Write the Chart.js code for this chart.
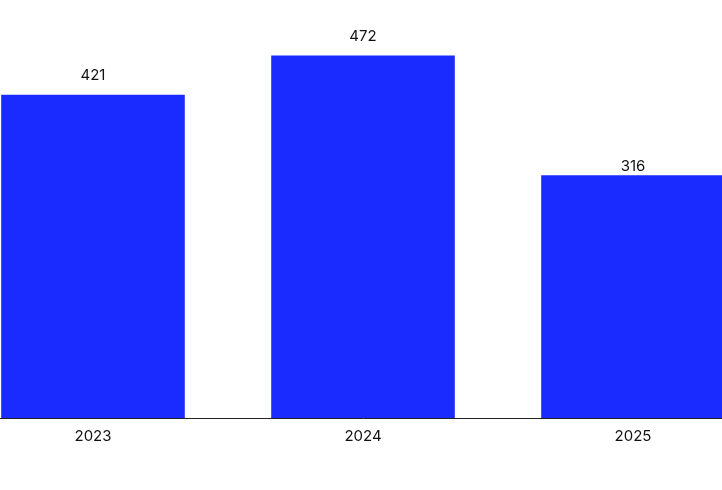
<!DOCTYPE html>
<html>
<head>
<meta charset="utf-8">
<script src="https://cdn.jsdelivr.net/npm/chart.js@4"></script>
<style>
  html, body { margin: 0; padding: 0; background: #fff; }
  #wrap { position: relative; width: 722px; height: 490px; overflow: hidden; }
  #inner { position: absolute; left: -42px; top: 0; width: 810px; height: 490px; }
</style>
</head>
<body>
<div id="wrap"><div id="inner"><canvas id="myChart"></canvas></div></div>
<script>
const years = ['2023', '2024', '2025'];
const values = [421, 472, 316];

// value labels above each bar (last one sits closer to its bar)
const barLabels = {
    id: 'barLabels',
    afterDatasetsDraw(chart) {
        const ctx = chart.ctx;
        const meta = chart.getDatasetMeta(0);
        ctx.save();
        ctx.font = '15px Inter, "Noto Sans", sans-serif';
        ctx.fillStyle = '#111';
        ctx.textAlign = 'center';
        ctx.textBaseline = 'bottom';
        meta.data.forEach((bar, i) => {
            const gap = i === meta.data.length - 1 ? 1 : 12;
            ctx.fillText(values[i], bar.x, bar.y - gap);
        });
        ctx.restore();
    }
};

const ctx = document.getElementById('myChart').getContext('2d');
new Chart(ctx, {
    type: 'bar',
    data: {
        labels: years,
        datasets: [{
            data: values,
            backgroundColor: '#1a2bff',
            borderWidth: 0,
            barPercentage: 0.85,
            categoryPercentage: 0.8
        }]
    },
    options: {
        responsive: true,
        maintainAspectRatio: false,
        animation: false,
        layout: {
            padding: { top: 34, bottom: 36, left: 0, right: 0 }
        },
        scales: {
            x: {
                grid: { display: false, drawTicks: false },
                border: { display: true, color: '#222', width: 1 },
                ticks: {
                    color: '#111',
                    padding: 9,
                    font: { family: 'Inter, "Noto Sans", sans-serif', size: 15 }
                }
            },
            y: {
                display: false,
                min: 0,
                max: 500
            }
        },
        plugins: {
            legend: { display: false },
            tooltip: { enabled: false }
        }
    },
    plugins: [barLabels]
});
</script>
</body>
</html>
